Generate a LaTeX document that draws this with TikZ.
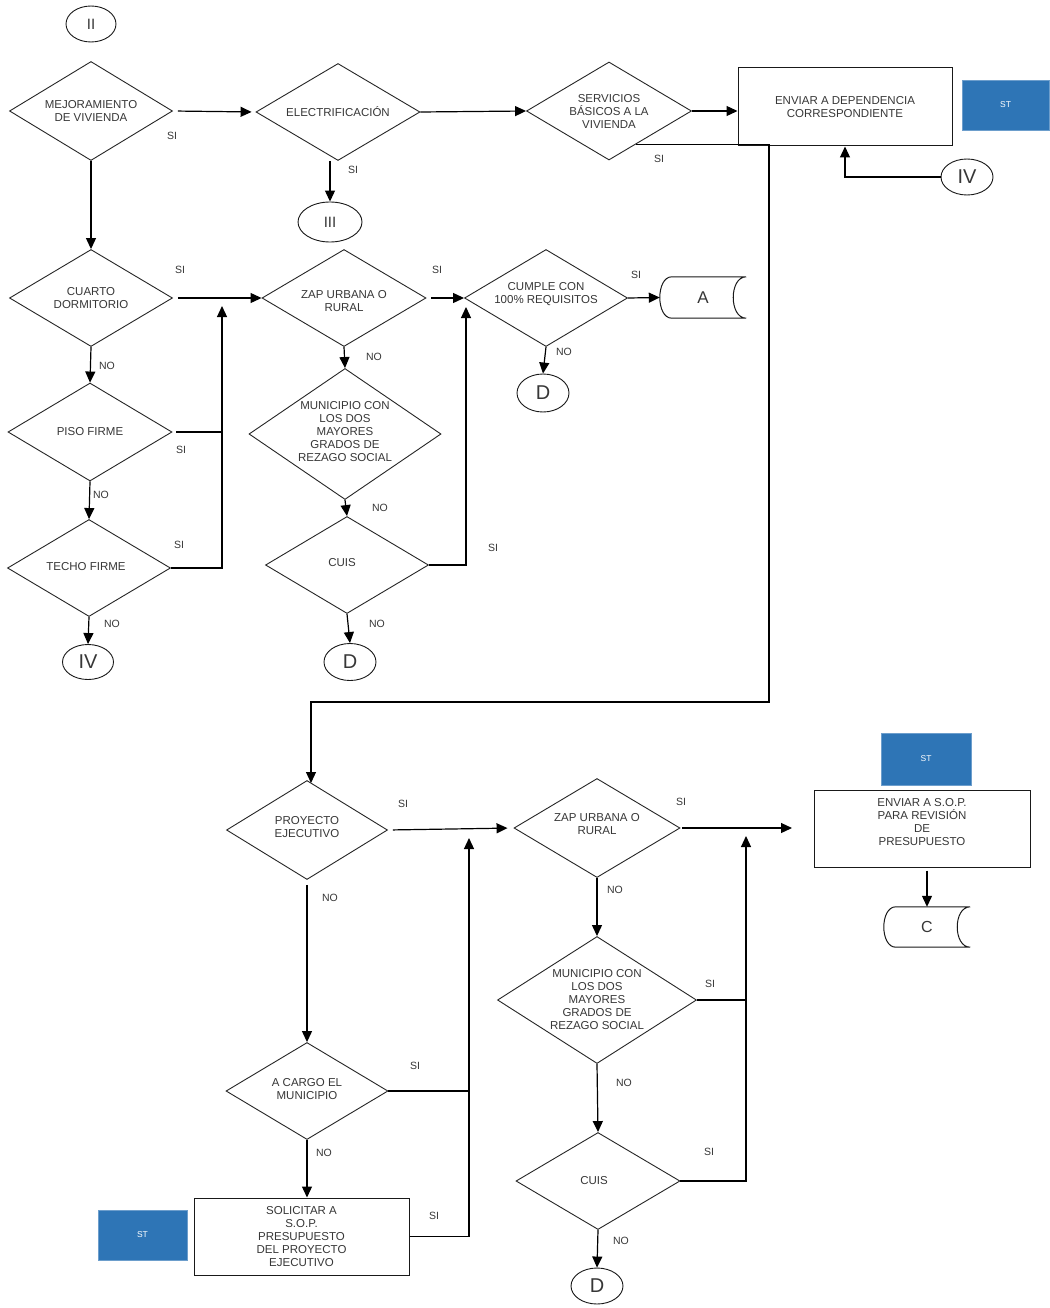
\documentclass[tikz,border=0pt]{standalone}
\usepackage{fontspec}
\setmainfont{Liberation Sans}
\usetikzlibrary{shapes.geometric,arrows.meta,calc}
\definecolor{stblue}{RGB}{46,117,182}
\definecolor{txt}{RGB}{55,55,55}
\begin{document}
\begin{tikzpicture}[x=1pt,y=-1pt,
  dia/.style={diamond,draw=black!85,line width=0.9pt,inner sep=0pt},
  dt/.style={font=\fontsize{11.5}{13}\selectfont,align=center,text=txt,inner sep=0pt},
  box/.style={rectangle,draw=black!90,line width=1pt,inner sep=0pt},
  stbox/.style={rectangle,fill=stblue,draw=stblue!70!white,line width=0.6pt,inner sep=0pt,text=white,font=\fontsize{8.5}{10}\selectfont},
  conn/.style={ellipse,draw=black!90,line width=0.9pt,inner sep=0pt,text=txt},
  store/.style={inner sep=0pt,text=txt},
  lab/.style={font=\fontsize{10.5}{12}\selectfont,text=txt,inner sep=0pt},
  arr/.style={line width=1.2pt,-{Triangle[length=11pt,width=10pt]}},
  ln/.style={line width=1.2pt},
]
\useasboundingbox (0,0) rectangle (1049,1308);
\fill[white] (0,0) rectangle (1049,1308);

% ---------- upper part ----------
\node[conn,minimum width=50pt,minimum height=36pt,font=\fontsize{15}{16}\selectfont] (ii) at (91,24) {II};
\node[dia,minimum width=163pt,minimum height=99pt,label={[dt]center:{MEJORAMIENTO\\DE VIVIENDA}}] (mej) at (91,111) {};
\node[dia,minimum width=164pt,minimum height=97pt,label={[dt]center:{ELECTRIFICACIÓN}}] (elec) at (338,112) {};
\node[dia,minimum width=165pt,minimum height=98pt,label={[dt]center:{SERVICIOS\\BÁSICOS  A LA\\VIVIENDA}}] (serv) at (609,111) {};
\node[box,minimum width=214pt,minimum height=78pt,label={[dt]center:{ENVIAR  A DEPENDENCIA\\CORRESPONDIENTE}}] (env1) at (845,107) {};
\node[stbox,minimum width=87pt,minimum height=50pt] (st1) at (1005.5,105) {ST};
\node[conn,minimum width=52pt,minimum height=36pt,font=\fontsize{20}{22}\selectfont] (iv1) at (967,177) {IV};
\node[conn,minimum width=64pt,minimum height=40pt,font=\fontsize{15}{16}\selectfont] (iii) at (330,222) {III};

\node[dia,minimum width=163pt,minimum height=97pt,label={[dt]center:{CUARTO\\DORMITORIO}}] (cuarto) at (91,298) {};
\node[dia,minimum width=164pt,minimum height=97pt,label={[dt,yshift=-3pt]center:{ZAP URBANA O\\RURAL}}] (zap1) at (344,298) {};
\node[dia,minimum width=163pt,minimum height=97pt,label={[dt,yshift=4pt]center:{CUMPLE CON\\100\%  REQUISITOS}}] (cumple) at (546,298) {};
\node[store,minimum width=86pt,minimum height=41pt,font=\fontsize{17}{18}\selectfont] (A) at (703,297.5) {A};
\node[conn,minimum width=52pt,minimum height=38pt,font=\fontsize{20}{22}\selectfont] (d1) at (543,393) {D};

\node[dia,minimum width=164pt,minimum height=98pt,label={[dt]center:{PISO FIRME}}] (piso) at (90,432) {};
\node[dia,minimum width=192pt,minimum height=131pt,label={[dt,yshift=2pt]center:{MUNICIPIO CON\\LOS DOS\\MAYORES\\GRADOS DE\\REZAGO SOCIAL}}] (mun1) at (345,434) {};
\node[dia,minimum width=163pt,minimum height=97pt,label={[dt,xshift=-3pt,yshift=1pt]center:{TECHO FIRME}}] (techo) at (89,568) {};
\node[dia,minimum width=163pt,minimum height=97pt,label={[dt,xshift=-5pt,yshift=2pt]center:{CUIS}}] (cuis1) at (347,565) {};
\node[conn,minimum width=51pt,minimum height=35pt,font=\fontsize{20}{22}\selectfont] (iv2) at (88,662) {IV};
\node[conn,minimum width=52pt,minimum height=37pt,font=\fontsize{20}{22}\selectfont] (d2) at (350,662) {D};

% ---------- lower part ----------
\node[dia,minimum width=161pt,minimum height=99pt,label={[dt,yshift=3pt]center:{PROYECTO\\EJECUTIVO}}] (proy) at (307,830) {};
\node[dia,minimum width=166pt,minimum height=99pt,label={[dt,yshift=4pt]center:{ZAP URBANA O\\RURAL}}] (zap2) at (597,828) {};
\node[stbox,minimum width=90pt,minimum height=52pt] (st2) at (926,759) {ST};
\node[box,minimum width=216pt,minimum height=77pt,label={[dt,yshift=6pt]center:{ENVIAR  A S.O.P.\\PARA REVISIÓN\\DE\\PRESUPUESTO}}] (env2) at (922,828.5) {};
\node[store,minimum width=86pt,minimum height=40pt,font=\fontsize{16}{18}\selectfont] (C) at (927,927) {C};

\node[dia,minimum width=199pt,minimum height=127pt,label={[dt]center:{MUNICIPIO CON\\LOS DOS\\MAYORES\\GRADOS DE\\REZAGO SOCIAL}}] (mun2) at (597,1000) {};
\node[dia,minimum width=162pt,minimum height=97pt,label={[dt,yshift=2pt]center:{A CARGO EL\\MUNICIPIO}}] (acargo) at (307,1091) {};
\node[dia,minimum width=164pt,minimum height=97pt,label={[dt,xshift=-4pt]center:{CUIS}}] (cuis2) at (598,1181) {};
\node[box,minimum width=215pt,minimum height=77pt,label={[dt]center:{SOLICITAR  A\\S.O.P.\\PRESUPUESTO\\DEL PROYECTO\\EJECUTIVO}}] (solic) at (301.5,1236.5) {};
\node[stbox,minimum width=89pt,minimum height=50pt] (st3) at (142.5,1235) {ST};
\node[conn,minimum width=52pt,minimum height=36pt,font=\fontsize{20}{22}\selectfont] (d3) at (597,1286) {D};

% stored-data outlines
\foreach \s in {A,C}{
  \draw[line width=1pt,black!90] (\s.north east) -- ($(\s.north west)+(12,0)$)
     .. controls ($(\s.north west)+(-4,0)$) and ($(\s.south west)+(-4,0)$) .. ($(\s.south west)+(12,0)$)
     -- (\s.south east)
     .. controls ($(\s.south east)+(-17.3,0)$) and ($(\s.north east)+(-17.3,0)$) .. (\s.north east);
}

% ---------- connectors: upper ----------
\draw[arr,shorten <=5pt,shorten >=4pt] (mej.east) -- (elec.west);
\draw[arr] (elec.east) -- (serv.west);
\draw[arr] (serv.east) -- (serv.east -| env1.west);
\coordinate (s1) at ($(serv.east)!0.67!(serv.south)$);
\coordinate (p1) at (311,783);
\draw[arr] (s1) -| (769,702) -| (p1);
\draw[arr] (iv1.west) -| (env1.south);
\draw[arr] (elec.south -| iii.north) -- (iii.north);
\draw[arr] (mej.south) -- (cuarto.north);

\draw[arr,shorten <=5pt] (cuarto.east) -- (zap1.west);
\coordinate (j1) at (222,306);
\draw[ln,shorten <=4pt] (piso.east) -- (piso.east -| j1);
\draw[arr] (techo.east) -| (j1);
\draw[arr] (cuarto.south) -- (piso.north);
\draw[arr] (piso.south) -- (techo.north);
\draw[arr] (techo.south) -- (iv2.north);

\draw[arr,shorten <=5pt] (zap1.east) -- (cumple.west);
\coordinate (j2) at (466,307);
\draw[arr] (cuis1.east) -| (j2);
\draw[arr] (cumple.east) -- (A.west);
\draw[arr] (cumple.south) -- (d1.north);
\draw[arr] (zap1.south) -- (mun1.north);
\draw[arr] (mun1.south) -- (cuis1.north);
\draw[arr] (cuis1.south) -- (d2.north);

% ---------- connectors: lower ----------
\draw[arr,shorten <=5pt,shorten >=6pt] (proy.east) -- (zap2.west);
\coordinate (j3) at (469,838);
\draw[arr] (solic.east) -| (j3);
\draw[ln] (acargo.east) -- (acargo.east -| j3);
\coordinate (e1) at (792,828);
\draw[arr,shorten <=2pt] (zap2.east) -- (e1);
\coordinate (j4) at (746,836);
\draw[arr] (cuis2.east) -| (j4);
\draw[ln] (mun2.east) -- (mun2.east -| j4);
\draw[arr,shorten <=5pt] (proy.south) -- (acargo.north);
\draw[arr] (acargo.south) -- (acargo.south |- solic.north);
\draw[arr] (zap2.south) -- (mun2.north);
\draw[arr] (mun2.south) -- (cuis2.north);
\draw[arr] (cuis2.south) -- (d3.north);
\draw[arr,shorten <=3pt] (env2.south -| C.north) -- (C.north);

% ---------- SI / NO labels ----------
\node[lab] (l1) at (172,136) {SI};
\node[lab] (l2) at (353,170) {SI};
\node[lab] (l3) at (659,159) {SI};
\node[lab] (l4) at (180,270) {SI};
\node[lab] (l5) at (181,450) {SI};
\node[lab] (l6) at (179,545) {SI};
\node[lab] (l7) at (437,270) {SI};
\node[lab] (l8) at (636,275) {SI};
\node[lab] (l9) at (493,548) {SI};
\node[lab] (l10) at (403,804) {SI};
\node[lab] (l11) at (681,802) {SI};
\node[lab] (l12) at (415,1066) {SI};
\node[lab] (l13) at (434,1216) {SI};
\node[lab] (l14) at (710,984) {SI};
\node[lab] (l15) at (709,1152) {SI};
\node[lab] (n1) at (107,366) {NO};
\node[lab] (n2) at (101,495) {NO};
\node[lab] (n3) at (112,624) {NO};
\node[lab] (n4) at (374,357) {NO};
\node[lab] (n5) at (380,508) {NO};
\node[lab] (n6) at (377,624) {NO};
\node[lab] (n7) at (564,352) {NO};
\node[lab] (n8) at (330,898) {NO};
\node[lab] (n9) at (324,1153) {NO};
\node[lab] (n10) at (615,890) {NO};
\node[lab] (n11) at (624,1083) {NO};
\node[lab] (n12) at (621,1241) {NO};
\end{tikzpicture}
\end{document}
